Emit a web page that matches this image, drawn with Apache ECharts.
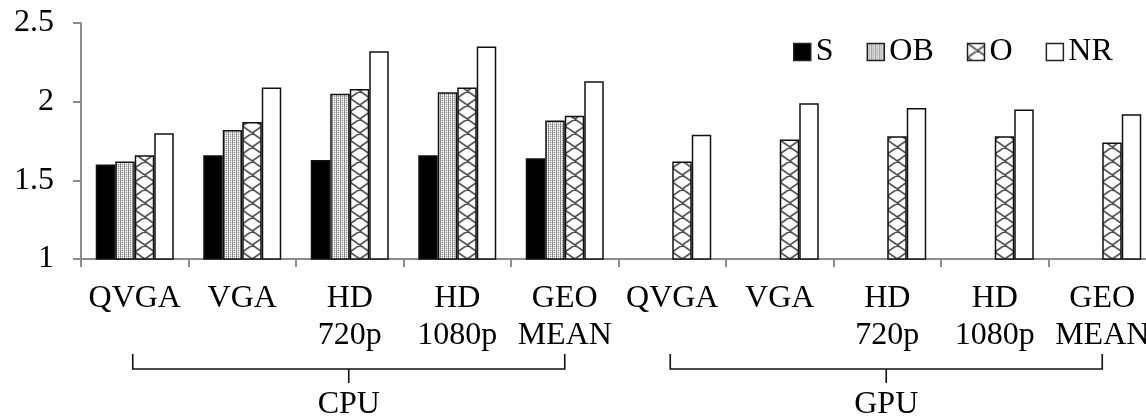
<!DOCTYPE html>
<html><head><meta charset="utf-8">
<script src="https://cdn.jsdelivr.net/npm/echarts@6/dist/echarts.min.js"></script>
<style>html,body{margin:0;padding:0;background:#fff}#c{width:1146px;height:418px}</style>
</head><body><div id="c"></div>
<script>
// ---- data ----
const categories = ['QVGA', 'VGA', 'HD\n720p', 'HD\n1080p', 'GEO\nMEAN',
                    'QVGA', 'VGA', 'HD\n720p', 'HD\n1080p', 'GEO\nMEAN'];
const groupNames = ['CPU', 'GPU'];
const groupFirst = [0, 5];
const groupLast = [4, 9];
const seriesNames = ['S', 'OB', 'O', 'NR'];
const valuesS  = [1.60, 1.66, 1.63, 1.66, 1.64, null, null, null, null, null];
const valuesOB = [1.62, 1.82, 2.05, 2.06, 1.88, null, null, null, null, null];
const valuesO  = [1.66, 1.87, 2.08, 2.09, 1.91, 1.62, 1.76, 1.78, 1.78, 1.74];
const valuesNR = [1.80, 2.09, 2.32, 2.35, 2.13, 1.79, 1.99, 1.96, 1.95, 1.92];
const yTicks = [1, 1.5, 2, 2.5];

// ---- patterns ----
function hatchTile() {
  const w = 20, h = 14, c = document.createElement('canvas');
  c.width = w; c.height = h;
  const g = c.getContext('2d');
  g.fillStyle = '#fff'; g.fillRect(0, 0, w, h);
  g.strokeStyle = '#4a4a4a'; g.lineWidth = 1.7;
  g.beginPath();
  for (const d of [-h, 0, h]) {
    g.moveTo(-2, -2 * h / w + d); g.lineTo(w + 2, h + 2 * h / w + d);
    g.moveTo(w + 2, -2 * h / w + d); g.lineTo(-2, h + 2 * h / w + d);
  }
  g.stroke();
  return c;
}
function dotTile() {
  const c = document.createElement('canvas');
  c.width = 4; c.height = 4;
  const g = c.getContext('2d');
  g.fillStyle = '#d8d8d8'; g.fillRect(0, 0, 4, 4);
  g.fillStyle = '#8a8a8a';
  g.fillRect(0, 0, 1, 4);
  g.fillRect(2, 0, 1, 1); g.fillRect(2, 2, 1, 1);
  g.fillStyle = '#ffffff';
  g.fillRect(1, 1, 1, 1); g.fillRect(3, 1, 1, 1); g.fillRect(1, 3, 1, 1); g.fillRect(3, 3, 1, 1);
  return c;
}
const hatch = hatchTile();
const dots = dotTile();

const FONT = 'Liberation Serif, Times New Roman, serif';
const FS = 32;
const BW = 19.5;
const border = { borderColor: '#111', borderWidth: 1.5 };

const chart = echarts.init(document.getElementById('c'), null, { renderer: 'canvas' });

function buildSeries(oData) {
  return [
    { name: 'S', type: 'bar', data: valuesS, barWidth: BW, barGap: '0%',
      itemStyle: Object.assign({ color: '#000' }, border) },
    { name: 'OB', type: 'bar', data: valuesOB, barWidth: BW, barGap: '0%',
      itemStyle: Object.assign({ color: { image: dots, repeat: 'repeat' } }, border) },
    { name: 'O', type: 'bar', data: oData, barWidth: BW, barGap: '0%',
      itemStyle: Object.assign({ color: { image: hatch, repeat: 'repeat' } }, border) },
    { name: 'NR', type: 'bar', data: valuesNR, barWidth: BW, barGap: '0%',
      itemStyle: Object.assign({ color: '#fff' }, border) }
  ];
}

const axisGray = '#8c8c8c';
chart.setOption({
  animation: false,
  backgroundColor: '#fff',
  grid: { left: 81, right: -10, top: 23, bottom: 159, outerBoundsMode: 'none', containLabel: false },
  legend: {
    data: seriesNames, left: 788, top: 31, icon: 'rect',
    itemWidth: 17, itemHeight: 17, itemGap: 33,
    textStyle: { fontFamily: FONT, fontSize: FS, color: '#000', lineHeight: 32 },
    itemStyle: { borderColor: '#222', borderWidth: 1.5 }
  },
  xAxis: {
    type: 'category', data: categories,
    axisLine: { lineStyle: { color: axisGray, width: 2 } },
    axisTick: { show: true, interval: 0, length: 8, lineStyle: { color: axisGray, width: 2 } },
    axisLabel: { interval: 0, fontFamily: FONT, fontSize: FS, color: '#000', lineHeight: 37, margin: 21 }
  },
  yAxis: {
    type: 'value', min: yTicks[0], max: yTicks[yTicks.length - 1], interval: 0.5,
    splitLine: { show: false },
    axisLine: { show: true, lineStyle: { color: axisGray, width: 2 } },
    axisTick: { show: true, length: 8, lineStyle: { color: axisGray, width: 2 } },
    axisLabel: { fontFamily: FONT, fontSize: FS, color: '#000', margin: 27 }
  },
  series: buildSeries(valuesO)
});

// align hatch tiles with each O bar, and draw group brackets
const centers = categories.map((_, i) => chart.convertToPixel({ xAxisIndex: 0 }, i));
const oData = valuesO.map((v, i) => ({
  value: v,
  itemStyle: { color: { image: hatch, repeat: 'repeat', x: centers[i], y: 0 } }
}));
const graphics = [];
groupNames.forEach((name, gi) => {
  const x1 = centers[groupFirst[gi]] - 2, x2 = centers[groupLast[gi]];
  const mid = (x1 + x2) / 2;
  graphics.push({ type: 'polyline', shape: { points: [[x1, 354], [x1, 369], [x2, 369], [x2, 354]] },
    style: { stroke: '#111', lineWidth: 1.6, fill: null } });
  graphics.push({ type: 'line', shape: { x1: mid, y1: 369, x2: mid, y2: 383 },
    style: { stroke: '#111', lineWidth: 1.6 } });
  graphics.push({ type: 'text', x: mid, y: 405,
    style: { text: name, font: FS + 'px ' + FONT, fill: '#000', textAlign: 'center', textVerticalAlign: 'middle' } });
});
chart.setOption({ series: buildSeries(oData), graphic: graphics });
</script>
</body></html>
